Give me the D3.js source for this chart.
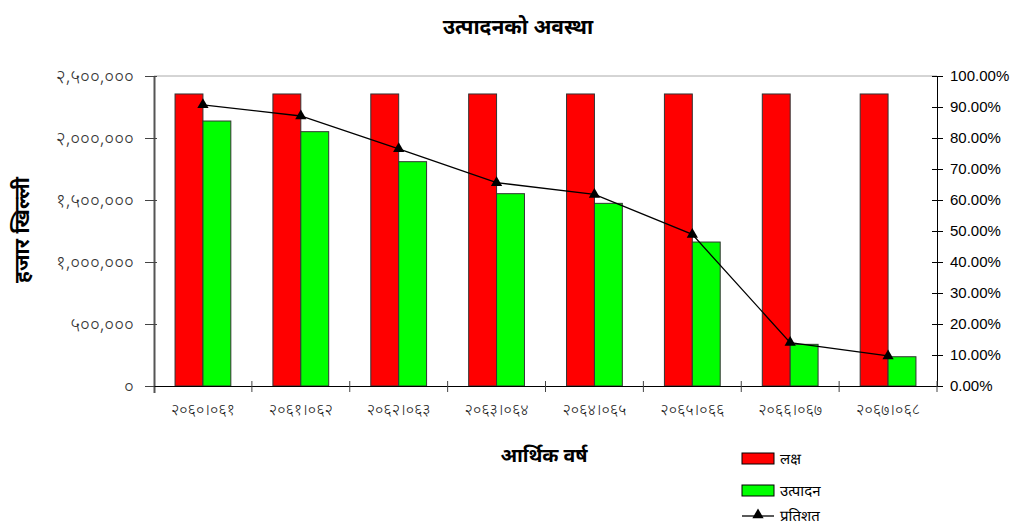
<!DOCTYPE html>
<html>
<head>
<meta charset="utf-8">
<script src="https://cdnjs.cloudflare.com/ajax/libs/d3/7.8.5/d3.min.js"></script>
<style>
  body { margin: 0; background: #fff; }
  text { font-family: "Noto Sans Devanagari", "Noto Sans", "DejaVu Sans", sans-serif; }
</style>
</head>
<body>
<div id="chart"></div>
<script>
// data
var years = ["२०६०।०६१", "२०६१।०६२", "२०६२।०६३", "२०६३।०६४", "२०६४।०६५", "२०६५।०६६", "२०६६।०६७", "२०६७।०६८"];
var target = [2355000, 2355000, 2355000, 2355000, 2355000, 2355000, 2355000, 2355000];
var production = [2137000, 2051000, 1809000, 1551000, 1473000, 1161000, 336000, 236000];
var percent = [0.907, 0.871, 0.765, 0.656, 0.618, 0.489, 0.140, 0.097];
var leftTicks = [0, 500000, 1000000, 1500000, 2000000, 2500000];
var leftTickLabels = ["०", "५००,०००", "१,०००,०००", "१,५००,०००", "२,०००,०००", "२,५००,०००"];
var rightTicks = [0, 0.1, 0.2, 0.3, 0.4, 0.5, 0.6, 0.7, 0.8, 0.9, 1.0];
var legendLabels = ["लक्ष", "उत्पादन", "प्रतिशत"];

var W = 1015, H = 527;
var margin = {top: 76, right: 78, bottom: 141, left: 154};
var width = W - margin.left - margin.right,
    height = H - margin.top - margin.bottom;

var svg = d3.select("#chart").append("svg")
    .attr("width", W)
    .attr("height", H);

var g = svg.append("g")
    .attr("transform", "translate(" + margin.left + "," + margin.top + ")");

var x = d3.scaleBand().domain(years).range([0, width]);
var y = d3.scaleLinear().domain([0, 2500000]).range([height, 0]);
var yr = d3.scaleLinear().domain([0, 1]).range([height, 0]);

var barW = x.bandwidth() * 0.285;

// plot area top border
g.append("line")
    .attr("x1", 0).attr("x2", width)
    .attr("y1", 0).attr("y2", 0)
    .style("stroke", "#aaa");

// bars
var grp = g.selectAll(".cat")
    .data(years)
    .enter().append("g")
    .attr("transform", function(d){ return "translate(" + (x(d) + x.bandwidth() / 2) + ",0)"; });

grp.append("rect")
    .attr("x", -barW)
    .attr("width", barW)
    .attr("y", function(d, i){ return y(target[i]); })
    .attr("height", function(d, i){ return height - y(target[i]); })
    .style("fill", "#ff0000")
    .style("stroke", "#333")
    .style("stroke-width", 1);

grp.append("rect")
    .attr("x", 0)
    .attr("width", barW)
    .attr("y", function(d, i){ return y(production[i]); })
    .attr("height", function(d, i){ return height - y(production[i]); })
    .style("fill", "#00ff00")
    .style("stroke", "#333")
    .style("stroke-width", 1);

// percentage line
var line = d3.line()
    .x(function(d, i){ return x(years[i]) + x.bandwidth() / 2; })
    .y(function(d){ return yr(d); });

g.append("path")
    .datum(percent)
    .attr("d", line)
    .style("fill", "none")
    .style("stroke", "#000")
    .style("stroke-width", 1.3);

var tri = d3.symbol().type(d3.symbolTriangle).size(55);
g.selectAll(".pt")
    .data(percent)
    .enter().append("path")
    .attr("d", tri)
    .attr("transform", function(d, i){ return "translate(" + (x(years[i]) + x.bandwidth() / 2) + "," + yr(d) + ")"; })
    .style("fill", "#000");

// left axis
var la = g.append("g")
    .call(d3.axisLeft(y).tickValues(leftTicks)
        .tickFormat(function(d, i){ return leftTickLabels[i]; })
        .tickSizeInner(6).tickSizeOuter(0).tickPadding(14));
la.select(".domain").attr("d", "M0.5,0V" + (height + 7)).style("stroke", "#555").style("stroke-width", 2);
la.selectAll(".tick line").attr("x2", 3).attr("x1", -9).style("stroke", "#444");
la.selectAll("text")
    .style("font-size", "19px")
    .style("font-weight", "300")
    .style("fill", "#333")
    .attr("dy", "0.35em");

// right axis
var ra = g.append("g")
    .attr("transform", "translate(" + width + ",0)")
    .call(d3.axisRight(yr).tickValues(rightTicks)
        .tickFormat(d3.format(".2%"))
        .tickSizeInner(6).tickSizeOuter(0).tickPadding(7));
ra.selectAll(".tick line").attr("x1", -5).attr("x2", 6);
ra.selectAll("text")
    .style("font-family", "'Liberation Sans', Arial, sans-serif")
    .style("font-size", "15px");

// bottom axis with ticks at category boundaries
var xa = g.append("g")
    .attr("transform", "translate(0," + height + ")")
    .call(d3.axisBottom(x).tickSize(0).tickPadding(18));
xa.select(".domain").style("stroke", "#000");
xa.selectAll("text")
    .style("font-size", "16px")
    .style("font-weight", "300")
    .style("fill", "#222");
xa.selectAll(".sep")
    .data(d3.range(1, years.length + 1))
    .enter().append("line")
    .attr("x1", function(d){ return d * x.step(); })
    .attr("x2", function(d){ return d * x.step(); })
    .attr("y1", -5)
    .attr("y2", 6)
    .style("stroke", "#444");

// titles
svg.append("text")
    .attr("x", 518)
    .attr("y", 34)
    .attr("text-anchor", "middle")
    .style("font-size", "21px")
    .style("font-weight", "bold")
    .text("उत्पादनको अवस्था");

svg.append("text")
    .attr("transform", "translate(29,230) rotate(-90)")
    .attr("text-anchor", "middle")
    .style("font-size", "21px")
    .style("font-weight", "bold")
    .text("हजार खिल्ली");

svg.append("text")
    .attr("x", 544)
    .attr("y", 462)
    .attr("text-anchor", "middle")
    .style("font-size", "19.5px")
    .style("font-weight", "bold")
    .text("आर्थिक वर्ष");

// legend
var leg = svg.append("g").attr("transform", "translate(742,453)");
var colors = ["#ff0000", "#00ff00"];
leg.selectAll(".lb")
    .data(colors)
    .enter().append("rect")
    .attr("x", 0)
    .attr("y", function(d, i){ return i * 32; })
    .attr("width", 32)
    .attr("height", 11)
    .style("fill", function(d){ return d; })
    .style("stroke", "#000");

leg.append("line")
    .attr("x1", 0).attr("x2", 32)
    .attr("y1", 63).attr("y2", 63)
    .style("stroke", "#000").style("stroke-width", 1.3);
leg.append("path")
    .attr("d", tri)
    .attr("transform", "translate(16,62)")
    .style("fill", "#000");

leg.selectAll(".lt")
    .data(legendLabels)
    .enter().append("text")
    .attr("x", 38)
    .attr("y", function(d, i){ return i < 2 ? i * 32 + 11 : 68; })
    .style("font-size", "15px")
    .text(function(d){ return d; });
</script>
</body>
</html>
